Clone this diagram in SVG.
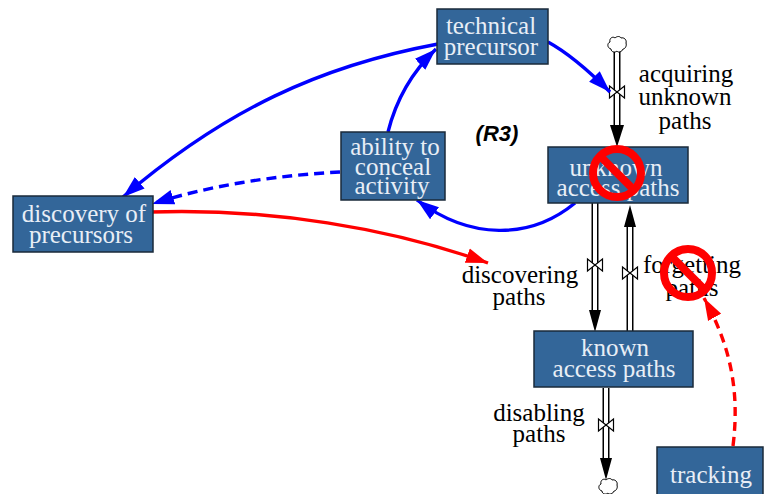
<svg xmlns="http://www.w3.org/2000/svg" width="764" height="494" viewBox="0 0 764 494">
<style>
.n{fill:#336699;stroke:#1a2a3a;stroke-width:1.5}
.w{fill:#e8eef6;font:25px "Liberation Serif",serif;text-anchor:middle}
.b{fill:#000;font:25px "Liberation Serif",serif;text-anchor:middle}
.c{fill:none;stroke-width:3.4}
.bl{stroke:#0000ff}.rd{stroke:#ff0000}
.pipeo{fill:none;stroke:#000;stroke-width:7}
.pipei{fill:none;stroke:#fff;stroke-width:4}
.valve{fill:#fff;stroke:#000;stroke-width:1.2}
.cloud{fill:#fff;stroke:#000;stroke-width:1}
.no{fill:none;stroke:#ff0000;stroke-width:8}
</style>
<defs>
<marker id="ab" markerUnits="userSpaceOnUse" markerWidth="24" markerHeight="16" refX="22" refY="8" orient="auto"><path d="M0 0.500L22 8L0 15.500Z" fill="#0000ff"/></marker>
<marker id="ar" markerUnits="userSpaceOnUse" markerWidth="24" markerHeight="16" refX="22" refY="8" orient="auto"><path d="M0 0.500L22 8L0 15.500Z" fill="#ff0000"/></marker>
<path id="v" d="M-7.500-6L7.500 6V-6L-7.500 6Z"/>
<path id="cl" d="M-7-3C-8-7-4-9-2-7C0-9 3-9 4-7C7-8 10-5 9-2C10 1 8 4 6 4C5 7 1 8 0 6C-2 8-6 7-6 4C-10 3-10-2-7-3Z"/>
</defs>
<g id="connectors">
<path class="pipeo" d="M617 50V125"/><path class="pipei" d="M617 50V125"/>
<path d="M610 125H624L617 147Z" fill="#000"/>
<path class="pipeo" d="M595 202V310"/><path class="pipei" d="M595 202V310"/>
<path d="M589 310H601L595 332Z" fill="#000"/>
<path class="pipeo" d="M630 331V226"/><path class="pipei" d="M630 331V226"/>
<path d="M624 227H636L630 205Z" fill="#000"/>
<path class="pipeo" d="M606 388V458"/><path class="pipei" d="M606 388V458"/>
<path d="M600 458H612L606 480Z" fill="#000"/>
<use href="#v" class="valve" x="617" y="92"/>
<use href="#v" class="valve" x="595" y="265"/>
<use href="#v" class="valve" x="630" y="273"/>
<use href="#v" class="valve" x="606" y="425"/>
<use href="#cl" class="cloud" x="617" y="45"/>
<use href="#cl" class="cloud" x="608" y="487"/>
<path class="c bl" marker-end="url(#ab)" d="M548 42C570 54 590 72 610 92"/>
<path class="c bl" marker-end="url(#ab)" d="M438 44C320 66 225 110 123 197"/>
<path class="c bl" marker-end="url(#ab)" d="M388 132C396 100 412 72 436 49"/>
<path class="c bl" marker-end="url(#ab)" d="M575 203C530 240 470 240 417 200"/>
<path class="c bl" stroke-dasharray="10 6" marker-end="url(#ab)" d="M340 172C280 175 210 185 152 204"/>
<path class="c rd" marker-end="url(#ar)" d="M151 212C270 208 390 228 488 263"/>
<path class="c rd" stroke-dasharray="9 6" marker-end="url(#ar)" d="M733 446C740 390 730 345 704 298"/>
</g>
<g id="technical-precursor"><rect class="n" x="437" y="9" width="111" height="55"/><text class="w" x="491" y="34">technical</text><text class="w" x="491" y="55">precursor</text></g>
<g id="ability-to-conceal"><rect class="n" x="341" y="132" width="104" height="68"/><text class="w" x="395" y="155">ability to</text><text class="w" x="393" y="175">conceal</text><text class="w" x="392" y="194">activity</text></g>
<g id="discovery-of-precursors"><rect class="n" x="13" y="196" width="140" height="56"/><text class="w" x="84" y="222">discovery of</text><text class="w" x="81" y="243">precursors</text></g>
<g id="unknown-access-paths"><rect class="n" x="548" y="147" width="140" height="56"/><text class="w" x="616" y="176">unknown</text><text class="w" x="618" y="196">access paths</text></g>
<g id="known-access-paths"><rect class="n" x="534" y="331" width="159" height="56"/><text class="w" x="615" y="356">known</text><text class="w" x="614" y="377">access paths</text></g>
<g id="tracking"><rect class="n" x="657" y="447" width="106" height="50"/><text class="w" x="711" y="483">tracking</text></g>
<g id="labels">
<text class="b" x="686" y="82">acquiring</text><text class="b" x="685" y="105">unknown</text><text class="b" x="685" y="129">paths</text>
<text class="b" x="520" y="283">discovering</text><text class="b" x="519" y="305">paths</text>
<text class="b" x="692" y="273">forgetting</text><text class="b" x="692" y="296">paths</text>
<text class="b" x="539" y="421">disabling</text><text class="b" x="539" y="442">paths</text>
<text x="497" y="141" font-family="Liberation Sans,sans-serif" font-size="22" font-weight="bold" font-style="italic" text-anchor="middle">(R3)</text>
</g>
<g id="no-signs">
<circle class="no" cx="617" cy="173" r="24"/><path class="no" d="M600 156L634 190"/>
<circle class="no" cx="688" cy="273" r="24"/><path class="no" d="M671 256L705 290"/>
</g>
</svg>
